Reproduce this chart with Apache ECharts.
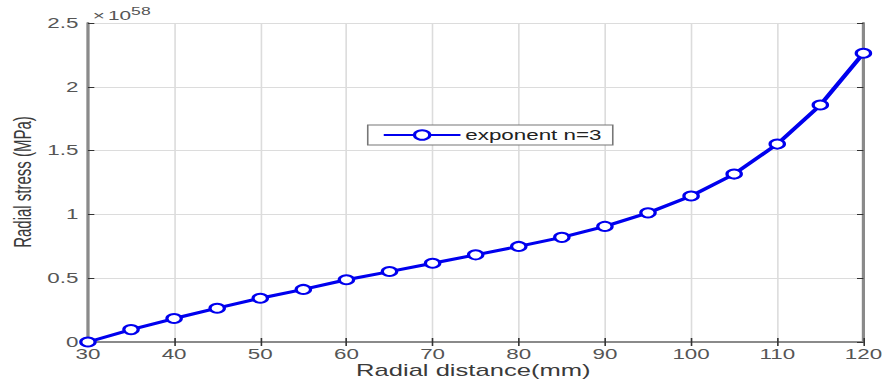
<!DOCTYPE html>
<html>
<head>
<meta charset="utf-8">
<script src="https://cdn.jsdelivr.net/npm/echarts@6/dist/echarts.min.js"></script>
<style>
  html, body { margin: 0; padding: 0; background: #fff; overflow: hidden; }
  #wrap { width: 889px; height: 383px; overflow: hidden; }
  /* the figure is laid out narrow and widened horizontally */
  #chart { width: 556px; height: 383px; transform: scaleX(1.5989); transform-origin: 0 0; }
</style>
</head>
<body>
<div id="wrap"><div id="chart"></div></div>
<script>
// Radial distance (mm)
const radialDistance = [30, 35, 40, 45, 50, 55, 60, 65, 70, 75, 80, 85, 90, 95, 100, 105, 110, 115, 120];
// Radial stress, in units of 1e58 MPa
const radialStress = [0, 0.097, 0.184, 0.265, 0.343, 0.412, 0.488, 0.552, 0.617, 0.683, 0.749,
                      0.82, 0.906, 1.012, 1.144, 1.316, 1.551, 1.857, 2.263];
const seriesName = 'exponent n=3';
const xTicks = [30, 40, 50, 60, 70, 80, 90, 100, 110, 120];
const yTickLabels = ['0', '0.5', '1', '1.5', '2', '2.5'];

const FONT = 'Liberation Sans, Arial, Helvetica, sans-serif';
const AXIS_GRAY = '#8a8a8a';
const TEXT_GRAY = '#555';
const BLUE = '#0000ee';

const points = radialDistance.map((d, i) => [d, radialStress[i]]);

const frameAxisCommon = {
  axisLine: { show: true, lineStyle: { color: AXIS_GRAY, width: 2 } },
  axisTick: { show: true, inside: true, length: 4, lineStyle: { color: '#333', width: 1 } },
  axisLabel: { show: false },
  splitLine: { show: false }
};

const chart = echarts.init(document.getElementById('chart'), null, { renderer: 'svg' });
chart.setOption({
  animation: false,
  backgroundColor: '#fff',
  grid: { left: 55, right: 16, top: 23, bottom: 41, containLabel: false },
  legend: {
    data: [seriesName],
    left: 230,
    top: 125,
    orient: 'horizontal',
    itemWidth: 48,
    itemHeight: 12,
    itemGap: 0,
    padding: [3, 7, 3, 9],
    borderColor: '#777',
    borderWidth: 1,
    backgroundColor: '#fff',
    textStyle: { fontFamily: FONT, fontSize: 14, color: '#222', padding: [0, 0, 0, -2] }
  },
  xAxis: [
    {
      type: 'value', min: 30, max: 120, interval: 10, position: 'bottom',
      axisLine: { show: true, lineStyle: { color: AXIS_GRAY, width: 2 } },
      axisTick: { show: true, inside: true, length: 4, lineStyle: { color: '#333', width: 1 } },
      axisLabel: {
        show: true, margin: 5, fontFamily: FONT, fontSize: 14, color: TEXT_GRAY,
        formatter: v => (xTicks.includes(v) ? String(v) : '')
      },
      splitLine: { show: true, lineStyle: { color: '#dcdcdc', width: 1 } }
    },
    Object.assign({ type: 'value', min: 30, max: 120, interval: 10, position: 'top' }, frameAxisCommon)
  ],
  yAxis: [
    {
      type: 'value', min: 0, max: 2.5, interval: 0.5, position: 'left',
      axisLine: { show: true, lineStyle: { color: AXIS_GRAY, width: 2 } },
      axisTick: { show: true, inside: true, length: 4, lineStyle: { color: '#333', width: 1 } },
      axisLabel: {
        show: true, margin: 6, fontFamily: FONT, fontSize: 14, color: TEXT_GRAY,
        formatter: v => yTickLabels[Math.round(v / 0.5)]
      },
      splitLine: { show: true, lineStyle: { color: '#dcdcdc', width: 1 } }
    },
    Object.assign({ type: 'value', min: 0, max: 2.5, interval: 0.5, position: 'right' }, frameAxisCommon)
  ],
  series: [{
    name: seriesName,
    type: 'line',
    xAxisIndex: 0,
    yAxisIndex: 0,
    data: points,
    symbol: 'emptyCircle',
    symbolSize: 9,
    lineStyle: { color: BLUE, width: 3 },
    itemStyle: { color: BLUE, borderColor: BLUE, borderWidth: 2.5 },
    z: 5
  }],
  graphic: [
    // axis exponent: ×10^58
    {
      type: 'text', x: 58, y: 16,
      style: { text: '×', fontFamily: FONT, fontSize: 13, fill: TEXT_GRAY, align: 'left', verticalAlign: 'middle' }
    },
    {
      type: 'text', x: 67.5, y: 16,
      style: { text: '10', fontFamily: FONT, fontSize: 13, fill: TEXT_GRAY, align: 'left', verticalAlign: 'middle' }
    },
    {
      type: 'text', x: 82, y: 11,
      style: { text: '58', fontFamily: FONT, fontSize: 11, fill: TEXT_GRAY, align: 'left', verticalAlign: 'middle' }
    },
    {
      type: 'text', x: 296, y: 371,
      style: {
        text: 'Radial distance(mm)', fontFamily: FONT, fontSize: 16, fill: '#3a3a3a',
        align: 'center', verticalAlign: 'middle'
      }
    },
    {
      type: 'text', x: 14, y: 182, rotation: Math.PI / 2,
      style: {
        text: 'Radial stress (MPa)', fontFamily: FONT, fontSize: 15, fill: '#3a3a3a',
        align: 'center', verticalAlign: 'middle'
      }
    }
  ]
});
</script>
</body>
</html>
